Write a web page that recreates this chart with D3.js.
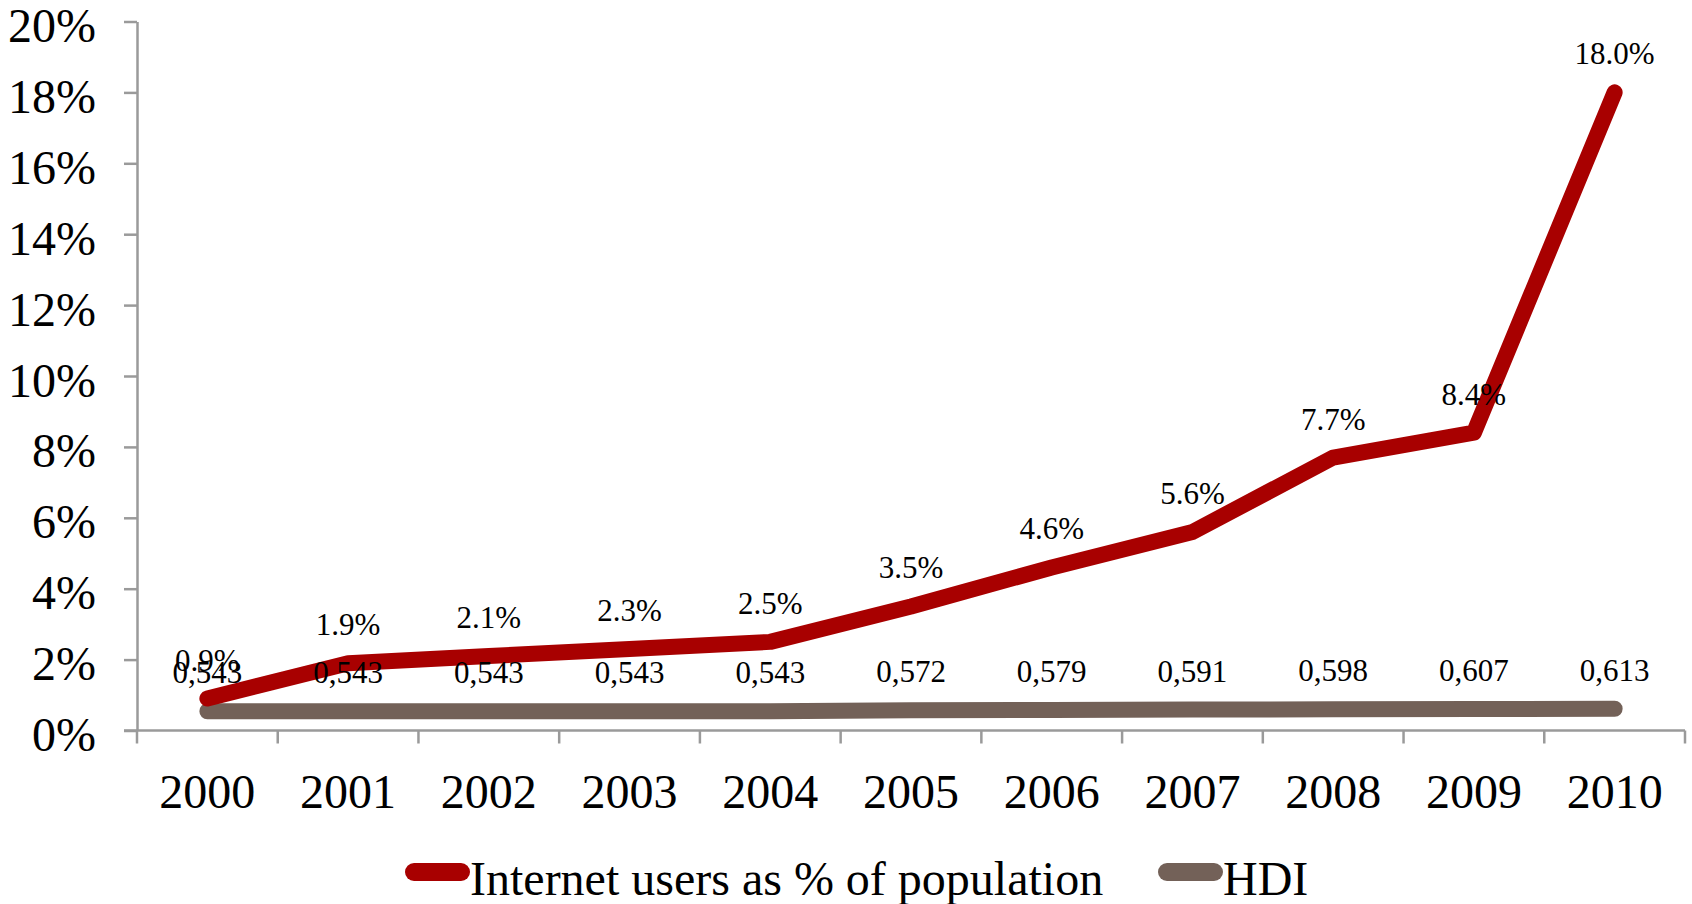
<!DOCTYPE html>
<html>
<head>
<meta charset="utf-8">
<script src="https://cdn.jsdelivr.net/npm/d3@7"></script>
<style>
  html, body { margin: 0; padding: 0; background: #ffffff; }
  svg { display: block; }
  text { font-family: "Liberation Serif", "Times New Roman", serif; fill: #000; }
</style>
</head>
<body>
<svg id="chart" width="1692" height="904"></svg>
<script>
// Years on the category axis
const years = ["2000","2001","2002","2003","2004","2005","2006","2007","2008","2009","2010"];
// Internet users as % of population
const internetUsers = [0.9, 1.9, 2.1, 2.3, 2.5, 3.5, 4.6, 5.6, 7.7, 8.4, 18.0];
// Human Development Index (plotted on the same percent axis)
const hdi = [0.543, 0.543, 0.543, 0.543, 0.543, 0.572, 0.579, 0.591, 0.598, 0.607, 0.613];
// Value axis ticks
const yTicks = [0, 2, 4, 6, 8, 10, 12, 14, 16, 18, 20];
const seriesNames = ["Internet users as % of population", "HDI"];

const RED = "#a80000";
const BROWN = "#736158";
const AXIS = "#9a9a9a";

const svg = d3.select("#chart");

const x = d3.scaleBand().domain(years).range([137, 1685]).padding(0);
const y = d3.scaleLinear().domain([0, 20]).range([730.5, 21.5]);
const cx = d => x(d) + x.bandwidth() / 2;

// Value axis
const yAxis = svg.append("g")
  .attr("transform", `translate(${x.range()[0]},0)`)
  .call(d3.axisLeft(y).tickValues(yTicks).tickFormat(d => d + "%").tickSize(13).tickSizeOuter(0).tickPadding(28));
yAxis.select(".domain").attr("stroke", AXIS).attr("stroke-width", 2.5);
yAxis.selectAll(".tick line").attr("stroke", AXIS).attr("stroke-width", 2.5);
yAxis.selectAll(".tick text")
  .attr("font-size", 48).attr("font-family", "Liberation Serif, serif")
  .attr("dy", null).attr("y", 20).attr("fill", "#000");

// Category axis: labels centred in each band, ticks on band edges
const xAxis = svg.append("g")
  .attr("transform", `translate(0,${y(0)})`)
  .call(d3.axisBottom(x).tickSize(0).tickSizeOuter(0).tickPadding(0));
xAxis.select(".domain").attr("stroke", AXIS).attr("stroke-width", 2.5)
  .attr("d", `M${x.range()[0] - 13},0H${x.range()[1]}`);
xAxis.selectAll(".tick text")
  .attr("font-size", 48).attr("font-family", "Liberation Serif, serif")
  .attr("dy", null).attr("y", 77).attr("fill", "#000");

const edges = years.map(d => x(d)).concat([x.range()[1]]);
xAxis.selectAll("line.edge").data(edges).join("line")
  .attr("class", "edge")
  .attr("x1", d => d).attr("x2", d => d)
  .attr("y1", 0).attr("y2", 13)
  .attr("stroke", AXIS).attr("stroke-width", 2.5);

// Series lines
const line = d3.line().x((d, i) => cx(years[i])).y(d => y(d));

svg.append("path").datum(hdi)
  .attr("d", line).attr("fill", "none")
  .attr("stroke", BROWN).attr("stroke-width", 16)
  .attr("stroke-linecap", "round").attr("stroke-linejoin", "round");

svg.append("path").datum(internetUsers)
  .attr("d", line).attr("fill", "none")
  .attr("stroke", RED).attr("stroke-width", 16)
  .attr("stroke-linecap", "round").attr("stroke-linejoin", "round");

// Data labels
svg.append("g").selectAll("text").data(internetUsers).join("text")
  .attr("x", (d, i) => cx(years[i]))
  .attr("y", d => y(d) - 28)
  .attr("text-anchor", "middle").attr("font-size", 31)
  .text(d => d.toFixed(1) + "%");

svg.append("g").selectAll("text").data(hdi).join("text")
  .attr("x", (d, i) => cx(years[i]))
  .attr("y", d => y(d) - 28)
  .attr("text-anchor", "middle").attr("font-size", 31)
  .text(d => d.toFixed(3).replace(".", ","));

// Legend
const legend = svg.append("g");
const legendItems = [
  { name: seriesNames[0], color: RED, x0: 405 },
  { name: seriesNames[1], color: BROWN, x0: 1158 }
];
legendItems.forEach(it => {
  legend.append("line")
    .attr("x1", it.x0 + 9).attr("x2", it.x0 + 56)
    .attr("y1", 872).attr("y2", 872)
    .attr("stroke", it.color).attr("stroke-width", 18).attr("stroke-linecap", "round");
  legend.append("text")
    .attr("x", it.x0 + 65).attr("y", 895)
    .attr("font-size", 48)
    .text(it.name);
});
</script>
</body>
</html>
